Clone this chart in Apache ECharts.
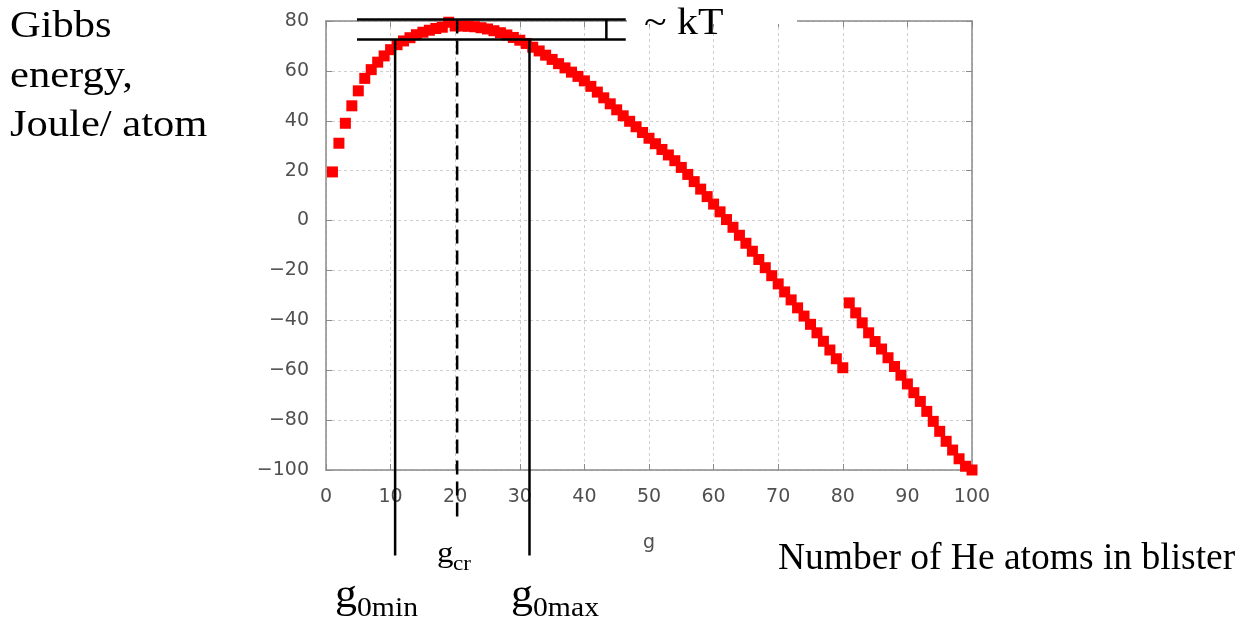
<!DOCTYPE html>
<html>
<head>
<meta charset="utf-8">
<script src="https://cdn.jsdelivr.net/npm/echarts@6/dist/echarts.min.js"></script>
<style>
  html, body { margin: 0; padding: 0; background: #fff; }
  #chart { width: 1250px; height: 624px; }
</style>
</head>
<body>
<div id="chart"></div>
<script>
// number of He atoms (g) and Gibbs energy per atom, first branch
const gLeft = [
  1, 2, 3, 4, 5, 6, 7, 8, 9, 10,
  11, 12, 13, 14, 15, 16, 17, 18, 19, 20,
  21, 22, 23, 24, 25, 26, 27, 28, 29, 30,
  31, 32, 33, 34, 35, 36, 37, 38, 39, 40,
  41, 42, 43, 44, 45, 46, 47, 48, 49, 50,
  51, 52, 53, 54, 55, 56, 57, 58, 59, 60,
  61, 62, 63, 64, 65, 66, 67, 68, 69, 70,
  71, 72, 73, 74, 75, 76, 77, 78, 79, 80
]
const energyLeft = [
  19.5, 31, 39, 46, 52, 57, 60.5, 63.5, 66, 68.5,
  70.5, 72, 73.3, 74.5, 75.5, 76.3, 77, 77.5, 79.5, 78,
  78, 77.9, 77.7, 77.3, 76.8, 76.1, 75.3, 74.4, 73.4, 72.3,
  71, 69.5, 68, 66.3, 64.6, 62.9, 61.2, 59.5, 57.8, 56,
  53.8, 51.5, 49.2, 46.8, 44.4, 42, 39.8, 37.6, 35.3, 33,
  30.8, 28.5, 26.3, 24, 21.3, 18.5, 15.6, 12.6, 9.6, 6.6,
  3.5, 0.4, -2.7, -5.9, -9.1, -12.3, -15.6, -18.9, -22.1, -25.4,
  -28.6, -31.8, -35, -38.3, -41.6, -45, -48.4, -51.9, -55.4, -59
]
// second branch after the jump
const gRight = [
  81, 82, 83, 84, 85, 86, 87, 88, 89, 90,
  91, 92, 93, 94, 95, 96, 97, 98, 99, 100
]
const energyRight = [
  -33, -37, -41, -45, -48.5, -51.5, -55, -58.5, -62, -65.5,
  -69, -72.5, -76.5, -80.5, -84.5, -88.5, -92, -95.5, -98.5, -100
]

// annotation positions in data units
const kTLevels = [80.6, 72.6]        // max and max - kT
const kTSpan = [4.8, 46.4]           // horizontal extent of the two lines
const kTBarAt = 43.4                 // small vertical bar between them
const gMin = 10.7, gCr = 20.3, gMax = 31.5
const solidBottom = -134.3, dashBottom = -119.5

const points = []
gLeft.forEach((g, i) => points.push([g, energyLeft[i]]))
gRight.forEach((g, i) => points.push([g, energyRight[i]]))

const tickFont = {
  fontFamily: 'DejaVu Sans', fontSize: 19, color: '#505050',
  formatter: v => String(v).replace('-', '\u2212')
}
const frame = { show: true, onZero: false, lineStyle: { color: '#8a8a8a', width: 1.5 } }
const ticks = { inside: true, length: 6, lineStyle: { color: '#8a8a8a' } }
const grid = { show: true, lineStyle: { color: '#cfcfcf', type: [3, 3], width: 1 } }

const chart = echarts.init(document.getElementById('chart'))
chart.setOption({
  animation: false,
  grid: { left: 326, right: 278, top: 21, bottom: 154 },
  xAxis: [
    {
      type: 'value', min: 0, max: 100, interval: 10,
      name: 'g', nameLocation: 'middle', nameGap: 64,
      nameTextStyle: { fontFamily: 'DejaVu Sans', fontSize: 19, color: '#505050' },
      axisLine: frame, axisTick: ticks,
      axisLabel: { ...tickFont, margin: 18 },
      splitLine: grid
    },
    {
      type: 'value', min: 0, max: 100, interval: 10, position: 'top',
      axisLine: frame, axisTick: ticks,
      axisLabel: { show: false },
      splitLine: { show: false }
    }
  ],
  yAxis: [
    {
      type: 'value', min: -100, max: 80, interval: 20,
      axisLine: frame, axisTick: ticks,
      axisLabel: { ...tickFont, margin: 17 },
      splitLine: grid
    },
    {
      type: 'value', min: -100, max: 80, interval: 20, position: 'right',
      axisLine: frame, axisTick: ticks,
      axisLabel: { show: false },
      splitLine: { show: false }
    }
  ],
  series: [{
    type: 'scatter',
    data: points,
    symbol: 'rect',
    symbolSize: 11,
    itemStyle: { color: '#ff0000', opacity: 1 }
  }]
})

// annotations placed through the axis scales
const px = (g, v) => chart.convertToPixel({ xAxisIndex: 0, yAxisIndex: 0 }, [g, v])
const black = { stroke: '#000', lineWidth: 2.5 }
const serif = 'Liberation Serif, Times New Roman, serif'

const hLine = (v) => {
  const a = px(kTSpan[0], v), b = px(kTSpan[1], v)
  return { type: 'line', shape: { x1: a[0], y1: a[1], x2: b[0], y2: b[1] }, style: black, z: 100 }
}
const vLine = (g, top, bottom, dash) => {
  const a = px(g, top), b = px(g, bottom)
  return {
    type: 'line', shape: { x1: a[0], y1: a[1], x2: b[0], y2: b[1] },
    style: dash ? { ...black, lineDash: [14, 7] } : black, z: 100
  }
}
const txt = (x, y, text, size, sx) => ({
  type: 'text', x: x, y: y, scaleX: sx || 1, z: 110,
  style: { text: text, fontFamily: serif, fontSize: size, fill: '#000', textVerticalAlign: 'bottom' }
})

const topLeft = px(0, 80)
chart.setOption({
  graphic: [
    // white box behind ~kT covering the top of the frame
    { type: 'rect', shape: { x: 627, y: 0, width: 170, height: topLeft[1] + 3 }, style: { fill: '#fff' }, z: 90 },
    hLine(kTLevels[0]),
    hLine(kTLevels[1]),
    vLine(kTBarAt, kTLevels[0], kTLevels[1], false),
    vLine(gMin, kTLevels[1], solidBottom, false),
    vLine(gCr, kTLevels[0], dashBottom, true),
    vLine(gMax, kTLevels[1], solidBottom, false),
    txt(644, 43, '~ kT', 38, 1.1),
    txt(10, 46, 'Gibbs', 38, 1.12),
    txt(10, 96, 'energy,', 38, 1.12),
    txt(10, 145, 'Joule/ atom', 38, 1.12),
    txt(778, 578, 'Number of He atoms in blister', 37.5, 1),
    // subscripted g labels
    txt(437, 569, 'g', 30, 1.1),
    txt(453, 575, 'cr', 21, 1.1),
    txt(335, 616, 'g', 40, 1.1),
    txt(357, 622, '0min', 27, 1.1),
    txt(511, 616, 'g', 40, 1.1),
    txt(533, 622, '0max', 27, 1.1)
  ]
})
</script>
</body>
</html>
